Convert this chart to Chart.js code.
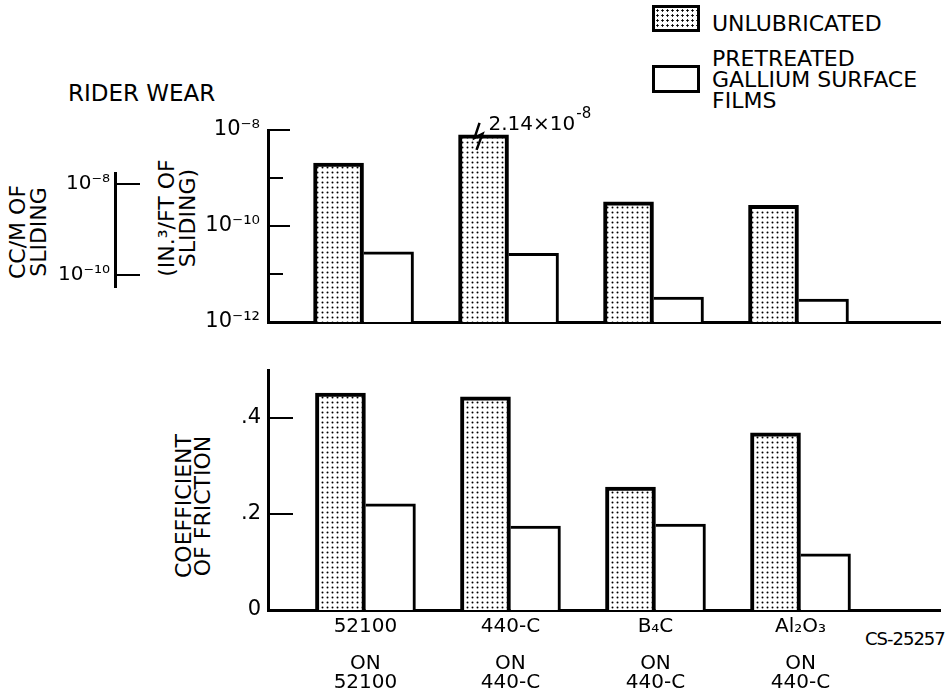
<!DOCTYPE html>
<html>
<head>
<meta charset="utf-8">
<script src="https://cdn.jsdelivr.net/npm/chart.js@4.4.1/dist/chart.umd.min.js"></script>
<style>
  body { margin: 0; background: #fff; width: 947px; height: 698px; position: relative; overflow: hidden;
         font-family: "DejaVu Sans", sans-serif; color: #000; }
  canvas { position: absolute; left: 0; }
  .txt { position: absolute; white-space: nowrap; line-height: 1; }
  .rot { position: absolute; white-space: nowrap; text-align: center; font-size: 22px;
         transform: translate(-50%, -50%) rotate(-90deg); }
  .swatch { position: absolute; box-sizing: border-box; border: 3px solid #000; background: #fff; }
  .dots { background-image: radial-gradient(circle, #000 0.9px, transparent 1.4px); background-size: 5px 5px; }
</style>
</head>
<body>
<div class="txt" style="left:68px;top:82px;font-size:23px">RIDER WEAR</div>

<div class="swatch dots" style="left:652px;top:5px;width:48px;height:27px"></div>
<div class="txt" style="left:712px;top:13px;font-size:22px">UNLUBRICATED</div>
<div class="swatch" style="left:652px;top:65px;width:48px;height:28px"></div>
<div class="txt" style="left:712px;top:48px;font-size:22px;line-height:21px">PRETREATED<br>GALLIUM SURFACE<br>FILMS</div>

<div class="rot" style="left:28px;top:232px;line-height:21px">CC/M OF<br>SLIDING</div>
<div class="rot" style="left:177px;top:218px;line-height:21px">(IN.³/FT OF<br>SLIDING)</div>
<div class="rot" style="left:193px;top:506px;line-height:19px">COEFFICIENT<br>OF FRICTION</div>

<div class="txt" style="left:865px;top:630px;font-size:18px;letter-spacing:-1px">CS-25257</div>

<canvas id="metric" width="200" height="164" style="top:148px"></canvas>
<canvas id="wear" width="947" height="260" style="top:100px"></canvas>
<canvas id="friction" width="947" height="358" style="top:340px"></canvas>

<script>
const categories = ['52100', '440-C', 'B4C', 'Al2O3'];
const xLabelLines = [
  ['52100', '', 'ON', '52100'],
  ['440-C', '', 'ON', '440-C'],
  ['B₄C', '', 'ON', '440-C'],
  ['Al₂O₃', '', 'ON', '440-C']
];

// rider wear, in.^3/ft of sliding (440-C unlubricated bar is broken, true value 2.14e-8)
const wearUnlubricated = [2.05e-9, 7.9e-9, 3.2e-10, 2.7e-10];
const wearPretreated = [2.9e-11, 2.7e-11, 3.3e-12, 3.0e-12];
const brokenBarIndex = 1;
const brokenBarNote = ['2.14×10', '-8'];

const wearTicks = [1e-12, 1e-11, 1e-10, 1e-9, 1e-8];
const wearTickLabels = ['10⁻¹²', '', '10⁻¹⁰', '', '10⁻⁸'];
const metricTicks = [1e-10, 1e-8];
const metricTickLabels = ['10⁻¹⁰', '10⁻⁸'];

// coefficient of friction
const frictionUnlubricated = [0.452, 0.444, 0.256, 0.369];
const frictionPretreated = [0.221, 0.175, 0.179, 0.117];
const frictionTicks = [0, 0.2, 0.4];
const frictionTickLabels = ['0', '.2', '.4'];

Chart.defaults.font.family = 'DejaVu Sans';
Chart.defaults.font.size = 21;
Chart.defaults.color = '#000';

// dotted fill for the unlubricated bars
function dotPattern() {
  const c = document.createElement('canvas');
  c.width = 5; c.height = 5;
  const g = c.getContext('2d');
  g.fillStyle = '#fff';
  g.fillRect(0, 0, 5, 5);
  g.fillStyle = '#000';
  g.beginPath();
  g.arc(2.5, 2.5, 1, 0, Math.PI * 2);
  g.fill();
  return g.createPattern(c, 'repeat');
}
const dots = dotPattern();

// tick marks drawn inside the plot, from the left axis
const innerTicks = {
  id: 'innerTicks',
  afterDatasetsDraw(chart, args, opts) {
    if (!opts.values) return;
    const scale = chart.scales.y;
    const ctx = chart.ctx;
    ctx.save();
    ctx.strokeStyle = '#000';
    ctx.lineWidth = 2;
    opts.values.forEach((v, i) => {
      const y = Math.round(scale.getPixelForValue(v));
      ctx.beginPath();
      ctx.moveTo(chart.chartArea.left, y);
      ctx.lineTo(chart.chartArea.left + opts.lengths[i], y);
      ctx.stroke();
    });
    ctx.restore();
  }
};

// break mark and true value on the off-scale bar
const brokenBar = {
  id: 'brokenBar',
  afterDatasetsDraw(chart) {
    const bar = chart.getDatasetMeta(0).data[brokenBarIndex];
    if (!bar) return;
    const ctx = chart.ctx;
    const left = bar.x - bar.width / 2;
    const top = bar.y;
    ctx.save();
    ctx.strokeStyle = '#000';
    ctx.lineWidth = 2.5;
    ctx.beginPath();
    ctx.moveTo(left + 21, top - 12);
    ctx.lineTo(left + 16, top + 3);
    ctx.lineTo(left + 24, top - 1);
    ctx.lineTo(left + 18, top + 15);
    ctx.stroke();
    ctx.fillStyle = '#000';
    ctx.textBaseline = 'alphabetic';
    ctx.font = '20px "DejaVu Sans"';
    ctx.fillText(brokenBarNote[0], left + 30, top - 5);
    const w = ctx.measureText(brokenBarNote[0]).width;
    ctx.font = '15px "DejaVu Sans"';
    ctx.fillText(brokenBarNote[1], left + 31 + w, top - 17);
    ctx.restore();
  }
};

function points(values) {
  return values.map((v, i) => ({ x: i, y: v }));
}

function barSets(unlub, pre) {
  return [
    {
      label: 'UNLUBRICATED',
      data: points(unlub),
      backgroundColor: dots,
      borderColor: '#000',
      borderWidth: 4,
      borderSkipped: 'start',
      barThickness: 50
    },
    {
      label: 'PRETREATED GALLIUM SURFACE FILMS',
      data: points(pre),
      backgroundColor: '#fff',
      borderColor: '#000',
      borderWidth: { top: 3, right: 3, left: 0, bottom: 0 },
      borderSkipped: false,
      barThickness: 50
    }
  ];
}

const axisBorder = { display: true, color: '#000', width: 3 };

// small metric scale (cc/m of sliding)
new Chart(document.getElementById('metric'), {
  type: 'bar',
  data: { labels: [], datasets: [] },
  options: {
    responsive: false,
    animation: false,
    layout: { padding: { top: 25, bottom: 25, right: 40 } },
    plugins: {
      legend: { display: false },
      tooltip: { enabled: false },
      innerTicks: { values: metricTicks, lengths: [25, 25] }
    },
    scales: {
      x: { display: false },
      y: {
        type: 'logarithmic',
        min: 5.5e-11,
        max: 1.75e-8,
        afterFit(s) { s.width = 115; },
        afterBuildTicks(s) { s.ticks = metricTicks.map(v => ({ value: v })); },
        ticks: { callback: (v, i) => metricTickLabels[i], padding: 5, font: { size: 20 } },
        grid: { display: false, drawTicks: false },
        border: axisBorder
      }
    }
  },
  plugins: [innerTicks]
});

// rider wear chart
new Chart(document.getElementById('wear'), {
  type: 'bar',
  data: { datasets: barSets(wearUnlubricated, wearPretreated) },
  options: {
    responsive: false,
    animation: false,
    layout: { padding: { top: 30, bottom: 38, right: 7, left: 0 } },
    plugins: {
      legend: { display: false },
      tooltip: { enabled: false },
      innerTicks: { values: wearTicks, lengths: [0, 15, 22, 15, 22] }
    },
    scales: {
      x: {
        type: 'linear',
        offset: false,
        min: -0.659,
        max: 3.976,
        afterFit(s) { s.height = 0; },
        ticks: { display: false },
        grid: { display: false, drawTicks: false },
        border: axisBorder
      },
      y: {
        type: 'logarithmic',
        min: 1e-12,
        max: 1e-8,
        afterFit(s) { s.width = 268; },
        afterBuildTicks(s) { s.ticks = wearTicks.map(v => ({ value: v })); },
        ticks: { callback: (v, i) => wearTickLabels[i], padding: 8 },
        grid: { display: false, drawTicks: false },
        border: axisBorder
      }
    }
  },
  plugins: [innerTicks, brokenBar]
});

// friction chart
new Chart(document.getElementById('friction'), {
  type: 'bar',
  data: { datasets: barSets(frictionUnlubricated, frictionPretreated) },
  options: {
    responsive: false,
    animation: false,
    layout: { padding: { top: 30, bottom: 0, right: 7, left: 0 } },
    plugins: {
      legend: { display: false },
      tooltip: { enabled: false },
      innerTicks: { values: frictionTicks, lengths: [0, 25, 25] }
    },
    scales: {
      x: {
        type: 'linear',
        offset: false,
        min: -0.672,
        max: 3.962,
        afterFit(s) { s.height = 88; },
        afterBuildTicks(s) { s.ticks = categories.map((c, i) => ({ value: i })); },
        ticks: {
          callback: (v, i) => xLabelLines[i],
          autoSkip: false,
          maxRotation: 0,
          minRotation: 0,
          padding: 8,
          font: { size: 20, lineHeight: '18.5px' }
        },
        grid: { display: false, drawTicks: false },
        border: axisBorder
      },
      y: {
        min: 0,
        max: 0.5,
        afterFit(s) { s.width = 268; },
        afterBuildTicks(s) { s.ticks = frictionTicks.map(v => ({ value: v })); },
        ticks: { callback: (v, i) => frictionTickLabels[i], padding: 7 },
        grid: { display: false, drawTicks: false },
        border: axisBorder
      }
    }
  },
  plugins: [innerTicks]
});
</script>
</body>
</html>
